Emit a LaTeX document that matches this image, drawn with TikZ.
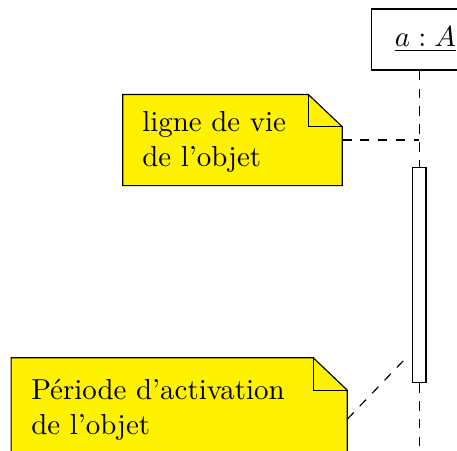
\documentclass[tikz,border=0pt]{standalone}
\tikzset{
  notebody/.style={fill=yellow, draw=black, line join=miter},
  notefold/.style={draw=black},
  notetext/.style={anchor=west, inner sep=0pt, align=left},
  link/.style={dash pattern=on 3.2pt off 3pt},
  objbox/.style={draw=black, inner sep=0pt, minimum width=37.5pt, minimum height=21.1pt},
  actbox/.style={draw=black, fill=white, inner sep=0pt, minimum width=4.74pt, minimum height=74.6pt},
  noteshape/.style={inner sep=0pt, draw=none}
}
\begin{document}
\begin{tikzpicture}[x=0.346pt,y=-0.346pt]
\useasboundingbox (0,0) rectangle (457,450);
\clip (0,0) rectangle (457,450);

% object and activation
\node[objbox] (obj) at (425.5,39.5) {\underline{$a:A$}};
\node[actbox] (act) at (419.2,275) {};
\coordinate (lifeend) at (419.2,465);
\draw[link] (obj.south -| act.north) -- (act.north);
\draw[link] (act.south) -- (lifeend);

% note 1
\node[noteshape, minimum width=75.57pt, minimum height=31.14pt] (note1) at (232.5,140) {};
\draw[notebody] (note1.north west) -- ([xshift=-11.76pt]note1.north east)
  -- ([yshift=-11.18pt]note1.north east) -- (note1.south east) -- (note1.south west) -- cycle;
\draw[notefold] ([xshift=-11.76pt]note1.north east) -- ([xshift=-11.76pt,yshift=-11.18pt]note1.north east)
  -- ([yshift=-11.18pt]note1.north east);
\node[notetext] (t1) at (141.7,142) {ligne de vie\\de l'objet};
\draw[link] (note1.east) -- (note1.east -| act.north);

% note 2
\node[noteshape, minimum width=115.9pt, minimum height=42.1pt] (note2) at (179.2,419.2) {};
\draw[notebody] (note2.north west) -- ([xshift=-11.76pt]note2.north east)
  -- ([yshift=-11.2pt]note2.north east) -- (note2.south east) -- (note2.south west) -- cycle;
\draw[notefold] ([xshift=-11.76pt]note2.north east) -- ([xshift=-11.76pt,yshift=-11.2pt]note2.north east)
  -- ([yshift=-11.2pt]note2.north east);
\node[notetext] (t2) at (30.7,409.8) {P\'eriode d'activation\\de l'objet};
\coordinate (actpt) at (405,359);
\draw[link] (note2.east) -- (actpt);
\end{tikzpicture}
\end{document}
